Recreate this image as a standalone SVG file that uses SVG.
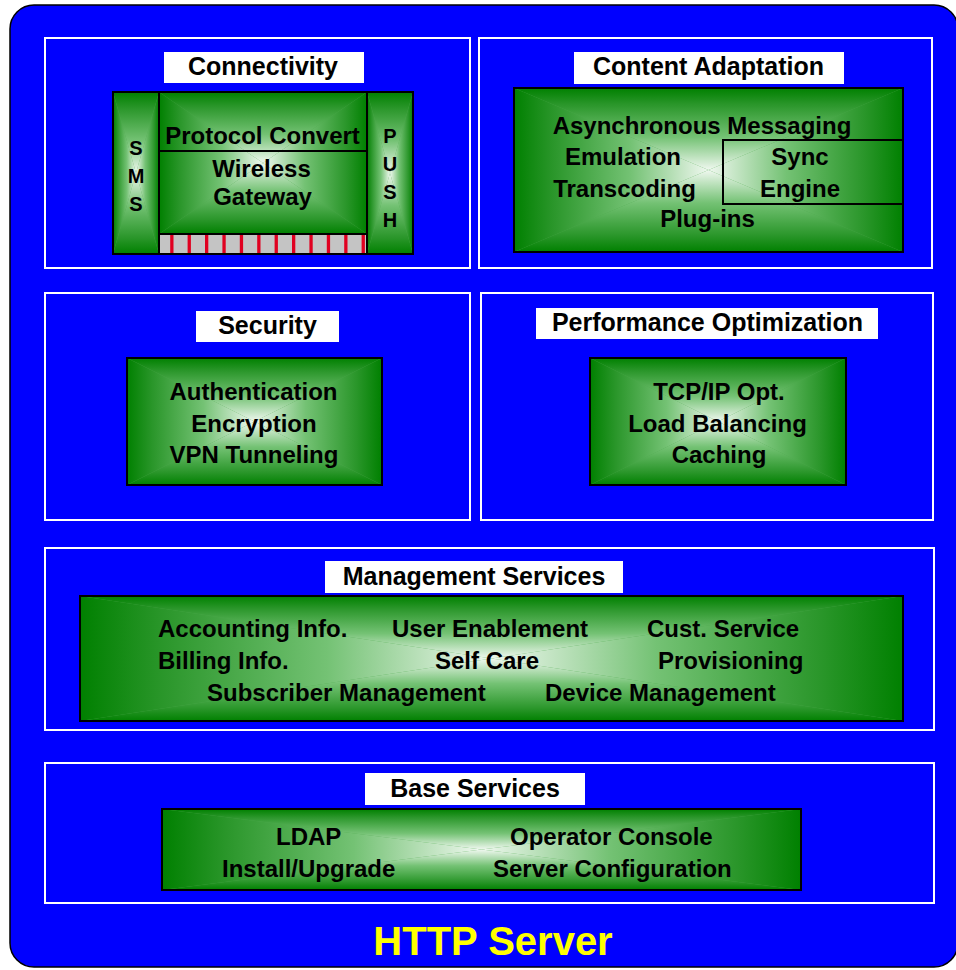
<svg xmlns="http://www.w3.org/2000/svg" width="956" height="970" viewBox="0 0 956 970">
<defs>
<linearGradient id="gT" x1="0" y1="0" x2="0" y2="1"><stop offset="0" stop-color="#008000"/><stop offset="0.2" stop-color="#2a962a"/><stop offset="0.6" stop-color="#74c274"/><stop offset="1" stop-color="#f0f8f0"/></linearGradient>
<linearGradient id="gB" x1="0" y1="1" x2="0" y2="0"><stop offset="0" stop-color="#008000"/><stop offset="0.2" stop-color="#2a962a"/><stop offset="0.6" stop-color="#74c274"/><stop offset="1" stop-color="#f0f8f0"/></linearGradient>
<linearGradient id="gL" x1="0" y1="0" x2="1" y2="0"><stop offset="0" stop-color="#008000"/><stop offset="0.2" stop-color="#2a962a"/><stop offset="0.6" stop-color="#74c274"/><stop offset="1" stop-color="#f0f8f0"/></linearGradient>
<linearGradient id="gR" x1="1" y1="0" x2="0" y2="0"><stop offset="0" stop-color="#008000"/><stop offset="0.2" stop-color="#2a962a"/><stop offset="0.6" stop-color="#74c274"/><stop offset="1" stop-color="#f0f8f0"/></linearGradient>
</defs>
<style>
.frame{fill:#0000ff;stroke:#000;stroke-width:1.5}
.panel{fill:none;stroke:#ffffff;stroke-width:2}
.hdr{fill:#ffffff}
.ht{font-family:"Liberation Sans",Arial,Helvetica,sans-serif;font-weight:bold;font-size:25px;fill:#000;text-anchor:middle}
.bt{font-family:"Liberation Sans",Arial,Helvetica,sans-serif;font-weight:bold;font-size:24px;fill:#000;text-anchor:middle}
.st{text-anchor:start}
.lt{font-family:"Liberation Sans",Arial,Helvetica,sans-serif;font-weight:bold;font-size:20px;fill:#000;text-anchor:middle}
.base{fill:#4aa84a}
.t{fill:url(#gT)}.b{fill:url(#gB)}.l{fill:url(#gL)}.r{fill:url(#gR)}
.edge{fill:none;stroke:#000;stroke-width:2}
.ln{stroke:#000;stroke-width:2;fill:none}
.red{fill:#e00020}
.title{font-family:"Liberation Sans",Arial,Helvetica,sans-serif;font-weight:bold;font-size:40px;fill:#ffff00;text-anchor:middle}
</style>

<rect class="frame" x="10" y="5" width="948" height="962" rx="24" ry="24"/>

<g id="connectivity">
<rect class="panel" x="45" y="38" width="425" height="230"/>
<rect class="hdr" x="164" y="52" width="200" height="31"/>
<text class="ht" x="263" y="75">Connectivity</text>
<rect class="base" x="113" y="92" width="46" height="162"/>
<polygon class="t" points="113,92 159,92 136,173"/>
<polygon class="b" points="113,254 159,254 136,173"/>
<polygon class="l" points="113,92 113,254 136,173"/>
<polygon class="r" points="159,92 159,254 136,173"/>
<rect class="base" x="159" y="92" width="208" height="142"/>
<polygon class="t" points="159,92 367,92 263,163"/>
<polygon class="b" points="159,234 367,234 263,163"/>
<polygon class="l" points="159,92 159,234 263,163"/>
<polygon class="r" points="367,92 367,234 263,163"/>
<rect class="base" x="367" y="92" width="46" height="162"/>
<polygon class="t" points="367,92 413,92 390,173"/>
<polygon class="b" points="367,254 413,254 390,173"/>
<polygon class="l" points="367,92 367,254 390,173"/>
<polygon class="r" points="413,92 413,254 390,173"/>
<rect x="159" y="234" width="208" height="20" fill="#c4c4c4"/>
<rect class="red" x="170.2" y="235" width="3.3" height="18"/>
<rect class="red" x="187.6" y="235" width="3.3" height="18"/>
<rect class="red" x="205" y="235" width="3.3" height="18"/>
<rect class="red" x="222.4" y="235" width="3.3" height="18"/>
<rect class="red" x="239.8" y="235" width="3.3" height="18"/>
<rect class="red" x="257.2" y="235" width="3.3" height="18"/>
<rect class="red" x="274.6" y="235" width="3.3" height="18"/>
<rect class="red" x="292" y="235" width="3.3" height="18"/>
<rect class="red" x="309.4" y="235" width="3.3" height="18"/>
<rect class="red" x="326.8" y="235" width="3.3" height="18"/>
<rect class="red" x="344.2" y="235" width="3.3" height="18"/>
<rect class="red" x="361.6" y="235" width="3.3" height="18"/>
<rect class="edge" x="113" y="92" width="300" height="162"/>
<line class="ln" x1="159" y1="92" x2="159" y2="254"/>
<line class="ln" x1="367" y1="92" x2="367" y2="254"/>
<line class="ln" x1="159" y1="151" x2="367" y2="151"/>
<line class="ln" x1="159" y1="234" x2="367" y2="234"/>
<text class="lt" x="136" y="155">S</text>
<text class="lt" x="136" y="183">M</text>
<text class="lt" x="136" y="211">S</text>
<text class="lt" x="390" y="143">P</text>
<text class="lt" x="390" y="171">U</text>
<text class="lt" x="390" y="199">S</text>
<text class="lt" x="390" y="227">H</text>
<text class="bt" x="262.5" y="144">Protocol Convert</text>
<text class="bt" x="261.5" y="177">Wireless</text>
<text class="bt" x="262.5" y="205">Gateway</text>
</g>

<g id="content-adaptation">
<rect class="panel" x="479" y="38" width="453" height="230"/>
<rect class="hdr" x="574" y="52" width="270" height="32"/>
<text class="ht" x="708.5" y="75">Content Adaptation</text>
<rect class="base" x="514" y="88" width="389" height="164"/>
<polygon class="t" points="514,88 903,88 708.5,170"/>
<polygon class="b" points="514,252 903,252 708.5,170"/>
<polygon class="l" points="514,88 514,252 708.5,170"/>
<polygon class="r" points="903,88 903,252 708.5,170"/>
<rect class="edge" x="514" y="88" width="389" height="164"/>
<rect class="edge" x="723" y="140" width="180" height="64"/>
<text class="bt" x="702" y="134">Asynchronous Messaging</text>
<text class="bt" x="623" y="165">Emulation</text>
<text class="bt" x="624.5" y="197">Transcoding</text>
<text class="bt" x="800" y="165">Sync</text>
<text class="bt" x="800" y="197">Engine</text>
<text class="bt" x="707.5" y="227">Plug-ins</text>
</g>

<g id="security">
<rect class="panel" x="45" y="293" width="425" height="227"/>
<rect class="hdr" x="196" y="311" width="143" height="31"/>
<text class="ht" x="267.5" y="334">Security</text>
<rect class="base" x="127" y="358" width="255" height="127"/>
<polygon class="t" points="127,358 382,358 254.5,421.5"/>
<polygon class="b" points="127,485 382,485 254.5,421.5"/>
<polygon class="l" points="127,358 127,485 254.5,421.5"/>
<polygon class="r" points="382,358 382,485 254.5,421.5"/>
<rect class="edge" x="127" y="358" width="255" height="127"/>
<text class="bt" x="253.5" y="400">Authentication</text>
<text class="bt" x="254" y="432">Encryption</text>
<text class="bt" x="254" y="463">VPN Tunneling</text>
</g>

<g id="performance">
<rect class="panel" x="481" y="293" width="452" height="227"/>
<rect class="hdr" x="536" y="308" width="342" height="31"/>
<text class="ht" x="707.5" y="331">Performance Optimization</text>
<rect class="base" x="590" y="358" width="256" height="127"/>
<polygon class="t" points="590,358 846,358 718,421.5"/>
<polygon class="b" points="590,485 846,485 718,421.5"/>
<polygon class="l" points="590,358 590,485 718,421.5"/>
<polygon class="r" points="846,358 846,485 718,421.5"/>
<rect class="edge" x="590" y="358" width="256" height="127"/>
<text class="bt" x="719" y="400">TCP/IP Opt.</text>
<text class="bt" x="717.5" y="432">Load Balancing</text>
<text class="bt" x="719" y="463">Caching</text>
</g>

<g id="management">
<rect class="panel" x="45" y="548" width="889" height="182"/>
<rect class="hdr" x="325" y="561" width="298" height="32"/>
<text class="ht" x="474" y="585">Management Services</text>
<rect class="base" x="80" y="596" width="823" height="125"/>
<polygon class="t" points="80,596 903,596 491.5,658.5"/>
<polygon class="b" points="80,721 903,721 491.5,658.5"/>
<polygon class="l" points="80,596 80,721 491.5,658.5"/>
<polygon class="r" points="903,596 903,721 491.5,658.5"/>
<rect class="edge" x="80" y="596" width="823" height="125"/>
<text class="bt st" x="158" y="637">Accounting Info.</text>
<text class="bt st" x="158" y="669">Billing Info.</text>
<text class="bt st" x="207" y="701">Subscriber Management</text>
<text class="bt st" x="392" y="637">User Enablement</text>
<text class="bt st" x="435" y="669">Self Care</text>
<text class="bt st" x="647" y="637">Cust. Service</text>
<text class="bt st" x="658" y="669">Provisioning</text>
<text class="bt st" x="545" y="701">Device Management</text>
</g>

<g id="base-services">
<rect class="panel" x="45" y="763" width="889" height="140"/>
<rect class="hdr" x="365" y="773" width="220" height="32"/>
<text class="ht" x="475" y="797">Base Services</text>
<rect class="base" x="162" y="809" width="639" height="81"/>
<polygon class="t" points="162,809 801,809 481.5,849.5"/>
<polygon class="b" points="162,890 801,890 481.5,849.5"/>
<polygon class="l" points="162,809 162,890 481.5,849.5"/>
<polygon class="r" points="801,809 801,890 481.5,849.5"/>
<rect class="edge" x="162" y="809" width="639" height="81"/>
<text class="bt st" x="276" y="845">LDAP</text>
<text class="bt st" x="222" y="877">Install/Upgrade</text>
<text class="bt st" x="510" y="845">Operator Console</text>
<text class="bt st" x="493" y="877">Server Configuration</text>
</g>

<g id="http-server">
<text class="title" x="493" y="955">HTTP Server</text>
</g>
<g id="connectors"/>
</svg>
